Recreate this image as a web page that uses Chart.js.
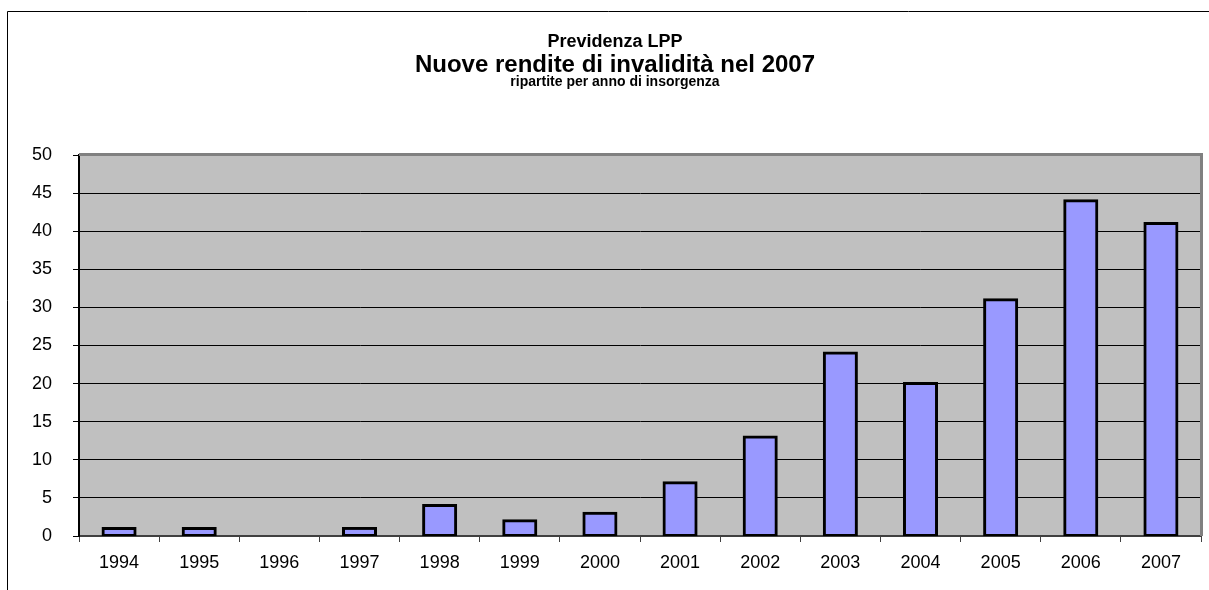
<!DOCTYPE html>
<html>
<head>
<meta charset="utf-8">
<script src="https://cdn.jsdelivr.net/npm/chart.js@4.4.1/dist/chart.umd.min.js"></script>
<style>
  html, body { margin: 0; padding: 0; background: #fff; }
  canvas { display: block; }
</style>
</head>
<body>
<canvas id="invalidita-chart" width="1209" height="590"></canvas>
<script>
const years = ['1994', '1995', '1996', '1997', '1998', '1999', '2000', '2001', '2002', '2003', '2004', '2005', '2006', '2007']
const rendite = [1, 1, 0, 1, 4, 2, 3, 7, 13, 24, 20, 31, 44, 41]
const yTicks = [0, 5, 10, 15, 20, 25, 30, 35, 40, 45, 50]

const titleLines = [
  { text: 'Previdenza LPP', size: 18, y: 47 },
  { text: 'Nuove rendite di invalidità nel 2007', size: 24, y: 72 },
  { text: 'ripartite per anno di insorgenza', size: 14, y: 86 },
]

const FONT = '"Liberation Sans", Arial, sans-serif'

// background of plot, outer frame and the titles
const excelLook = {
  id: 'excelLook',
  beforeDraw: (chart) => {
    const { ctx, chartArea } = chart
    ctx.save()
    ctx.fillStyle = '#C0C0C0'
    ctx.fillRect(chartArea.left, chartArea.top, chartArea.right - chartArea.left, chartArea.bottom - chartArea.top)

    ctx.strokeStyle = '#000'
    ctx.lineWidth = 1
    ctx.beginPath()
    ctx.moveTo(7.5, 590)
    ctx.lineTo(7.5, 11.5)
    ctx.lineTo(1209, 11.5)
    ctx.stroke()

    ctx.fillStyle = '#000'
    ctx.textAlign = 'center'
    ctx.textBaseline = 'alphabetic'
    titleLines.forEach((line) => {
      ctx.font = `bold ${line.size}px ${FONT}`
      ctx.fillText(line.text, 615, line.y)
    })
    ctx.restore()
  },
  afterDatasetsDraw: (chart) => {
    const { ctx, chartArea } = chart
    ctx.save()
    ctx.strokeStyle = '#808080'
    ctx.lineWidth = 3
    ctx.beginPath()
    ctx.moveTo(chartArea.left, chartArea.top - 0.5)
    ctx.lineTo(chartArea.right + 0.5, chartArea.top - 0.5)
    ctx.lineTo(chartArea.right + 0.5, chartArea.bottom)
    ctx.stroke()
    ctx.restore()
  },
}

const config = {
  type: 'bar',
  data: {
    labels: years,
    datasets: [
      {
        label: 'Nuove rendite',
        data: rendite,
        backgroundColor: '#9999FF',
        borderColor: '#000000',
        borderWidth: 3,
        borderSkipped: false,
        inflateAmount: 1.5,
        categoryPercentage: 1,
        barPercentage: 0.4,
      },
    ],
  },
  options: {
    responsive: false,
    animation: false,
    devicePixelRatio: 1,
    layout: {
      padding: { top: 155, right: 8, bottom: 0, left: 0 },
    },
    plugins: {
      legend: { display: false },
      tooltip: { enabled: false },
    },
    scales: {
      x: {
        grid: {
          display: true,
          drawOnChartArea: false,
          drawTicks: true,
          tickLength: 6,
          color: '#404040',
        },
        border: { display: true, color: '#404040', width: 2 },
        ticks: {
          color: '#000',
          padding: 10,
          maxRotation: 0,
          autoSkip: false,
          font: { family: FONT, size: 18 },
        },
        afterFit: (scale) => {
          scale.height = 54
        },
      },
      y: {
        min: 0,
        max: 50,
        afterBuildTicks: (scale) => {
          scale.ticks = yTicks.map((v) => ({ value: v }))
        },
        grid: {
          color: '#000',
          lineWidth: 1,
          tickLength: 6,
        },
        border: { display: true, color: '#000', width: 2 },
        ticks: {
          color: '#000',
          padding: 21,
          font: { family: FONT, size: 18 },
        },
        afterFit: (scale) => {
          scale.width = 79
        },
      },
    },
  },
  plugins: [excelLook],
}

new Chart(document.querySelector('#invalidita-chart'), config)
</script>
</body>
</html>
